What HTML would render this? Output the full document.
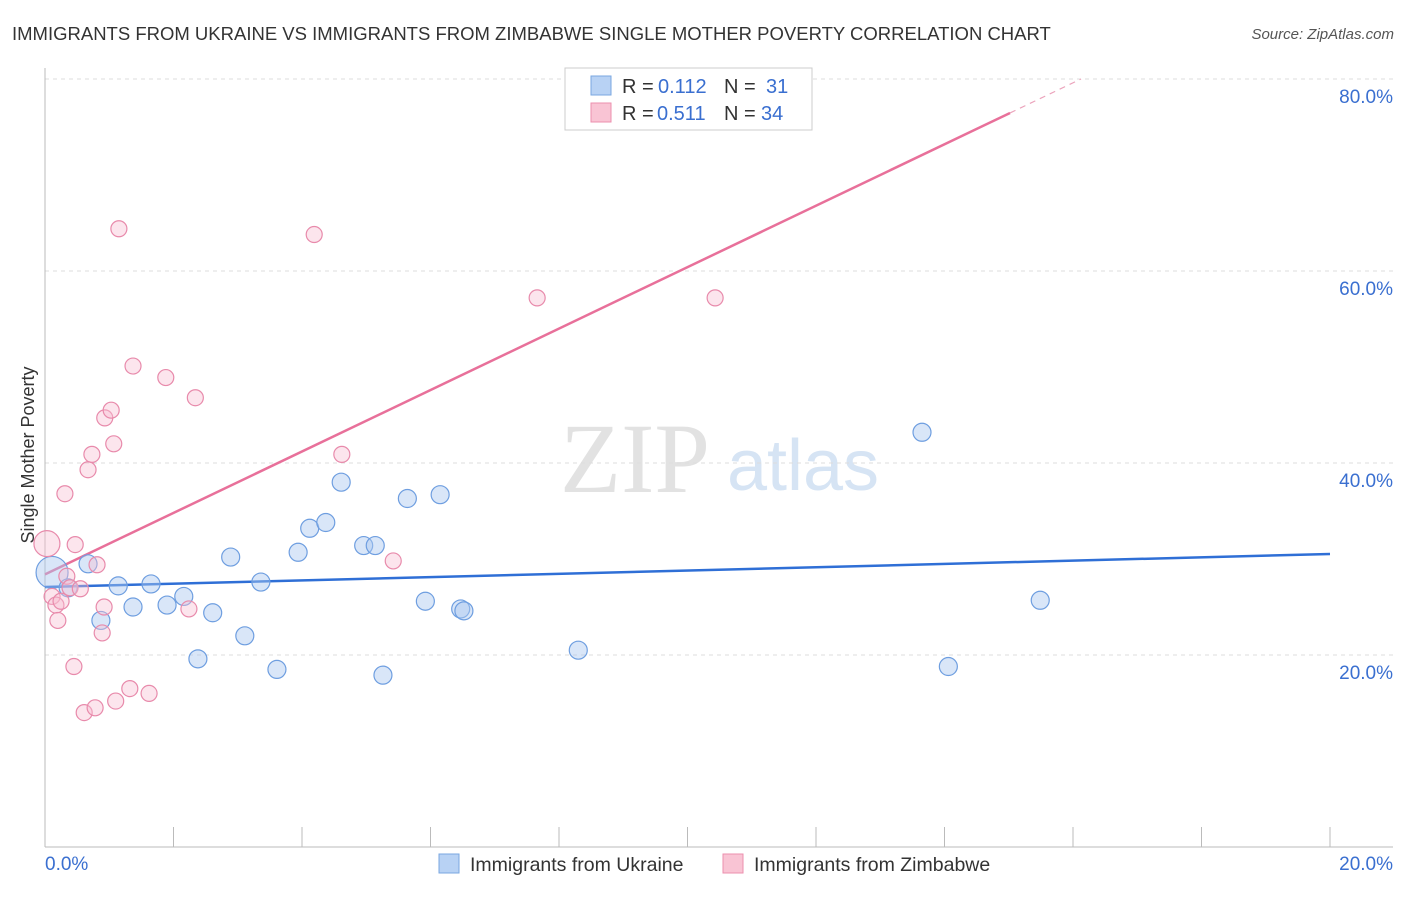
<!DOCTYPE html>
<html><head><meta charset="utf-8"><style>
body{margin:0;background:#fff;font-family:"Liberation Sans",sans-serif;}
</style></head><body>
<svg id="chart" width="1406" height="892" font-family="Liberation Sans, sans-serif">
<text x="12" y="40" font-size="18.5" fill="#333">IMMIGRANTS FROM UKRAINE VS IMMIGRANTS FROM ZIMBABWE SINGLE MOTHER POVERTY CORRELATION CHART</text>
<text x="1394" y="39" font-size="15" fill="#555" text-anchor="end" font-style="italic">Source: ZipAtlas.com</text>
<text x="34" y="455" font-size="18" fill="#333" text-anchor="middle" transform="rotate(-90 34 455)">Single Mother Poverty</text>
<g><text x="635" y="492" font-size="100" fill="#e2e2e2" text-anchor="middle" style="font-family:'Liberation Serif',serif">ZIP</text><text x="803" y="490" font-size="72" fill="#d6e4f4" text-anchor="middle">atlas</text></g>
<g id="grid"></g><g id="axes"></g><g id="lines"></g><g id="pts"></g>
<g>
<rect x="565" y="68" width="247" height="62" fill="#fff" stroke="#ccc"/>
<rect x="591" y="76" width="20" height="19" fill="#b8d2f4" stroke="#7aa7e0"/>
<rect x="591" y="103" width="20" height="19" fill="#f9c4d4" stroke="#ec8fae"/>
<text x="622" y="93" font-size="20" fill="#333">R =</text><text x="658" y="93" font-size="20" fill="#3a6fd0">0.112</text>
<text x="724" y="93" font-size="20" fill="#333">N =</text><text x="766" y="93" font-size="20" fill="#3a6fd0">31</text>
<text x="622" y="120" font-size="20" fill="#333">R =</text><text x="657" y="120" font-size="20" fill="#3a6fd0">0.511</text>
<text x="724" y="120" font-size="20" fill="#333">N =</text><text x="761" y="120" font-size="20" fill="#3a6fd0">34</text>
</g>
<g>
<rect x="439" y="854" width="20" height="19" fill="#b8d2f4" stroke="#7aa7e0"/>
<text x="470" y="871" font-size="19.5" fill="#333">Immigrants from Ukraine</text>
<rect x="723" y="854" width="20" height="19" fill="#f9c4d4" stroke="#ec8fae"/>
<text x="754" y="871" font-size="19.5" fill="#333">Immigrants from Zimbabwe</text>
</g>
</svg>
<script>
const yTicks=[20,40,60,80];
const xTickLabels=["0.0%","20.0%"];
const blueX=[0.11,0.36,0.67,0.87,1.14,1.37,1.65,1.9,2.16,2.38,2.61,2.89,3.11,3.36,3.61,3.94,4.12,4.37,4.61,4.96,5.14,5.26,5.64,5.92,6.15,6.47,6.52,8.3,13.65,14.06,15.49];
const blueY=[28.6,27.0,29.5,23.6,27.2,25.0,27.4,25.2,26.1,19.6,24.4,30.2,22.0,27.6,18.5,30.7,33.2,33.8,38.0,31.4,31.4,17.9,36.3,25.6,36.7,24.8,24.6,20.5,43.2,18.8,25.7];
const pinkX=[0.03,0.11,0.17,0.2,0.25,0.31,0.34,0.39,0.45,0.47,0.55,0.61,0.67,0.73,0.78,0.81,0.89,0.92,0.93,1.03,1.07,1.1,1.15,1.32,1.37,1.62,1.88,2.24,2.34,4.19,4.62,5.42,7.66,10.43];
const pinkY=[31.6,26.1,25.2,23.6,25.6,36.8,28.2,27.0,18.8,31.5,26.9,14.0,39.3,40.9,14.5,29.4,22.3,25.0,44.7,45.5,42.0,15.2,64.4,16.5,50.1,16.0,48.9,24.8,46.8,63.8,40.9,29.8,57.2,57.2];
const blueSize=[16,9,9,9,9,9,9,9,9,9,9,9,9,9,9,9,9,9,9,9,9,9,9,9,9,9,9,9,9,9,9];
const blueFit=[27.08,30.52];
const pinkFit=[28.4,3.2];
const X=v=>45+v/20*1285, Y=v=>847-v/80*768;
const NS="http://www.w3.org/2000/svg";
function mk(p,t,a){const e=document.createElementNS(NS,t);for(const k in a)e.setAttribute(k,a[k]);document.getElementById(p).appendChild(e);return e;}
yTicks.forEach(t=>{
 const l=mk('grid','line',{x1:45,x2:1393,y1:Y(t),y2:Y(t),stroke:'#ddd','stroke-dasharray':'4 4'});
 
 
 const tx=mk('grid','text',{x:1393,y:Y(t)+24,'font-size':19,fill:'#3a6fd0','text-anchor':'end'});tx.textContent=t.toFixed(1)+'%';
 
 
});
mk('axes','line',{x1:45,x2:45,y1:68,y2:847,stroke:'#bbb'});
const xa=mk('axes','line',{x1:45,x2:1393,y1:847,y2:847,stroke:'#bbb'});


for(let i=0;i<=10;i++){mk('axes','line',{x1:X(i*2),x2:X(i*2),y1:827,y2:847,stroke:'#bbb'});}
const xl0=mk('axes','text',{x:45,y:870,'font-size':19,fill:'#3a6fd0'});xl0.textContent=xTickLabels[0];


const xl1=mk('axes','text',{x:1393,y:870,'font-size':19,fill:'#3a6fd0','text-anchor':'end'});xl1.textContent=xTickLabels[1];


blueX.forEach((x,i)=>{const c=mk('pts','circle',{cx:X(x),cy:Y(blueY[i]),r:blueSize[i],fill:'rgba(170,200,240,0.45)',stroke:'#6e9ee0','stroke-width':1.2});
 
 });
pinkX.forEach((x,i)=>{const c=mk('pts','circle',{cx:X(x),cy:Y(pinkY[i]),r:i==0?13:8,fill:'rgba(248,190,210,0.4)',stroke:'#e88aab','stroke-width':1.2});
 
 });
const bl=mk('lines','line',{x1:X(0),y1:Y(blueFit[0]),x2:X(20),y2:Y(blueFit[1]),stroke:'#2f6fd6','stroke-width':2.5});


const pe=15.02, pd=(80-pinkFit[0])/pinkFit[1];
const pl=mk('lines','line',{x1:X(0),y1:Y(pinkFit[0]),x2:X(pe),y2:Y(pinkFit[0]+pinkFit[1]*pe),stroke:'#e8709a','stroke-width':2.5});


const pdl=mk('lines','line',{x1:X(pe),y1:Y(pinkFit[0]+pinkFit[1]*pe),x2:X(pd),y2:Y(80),stroke:'#eba3bb','stroke-width':1.2,'stroke-dasharray':'6 5'});


</script>
</body></html>
